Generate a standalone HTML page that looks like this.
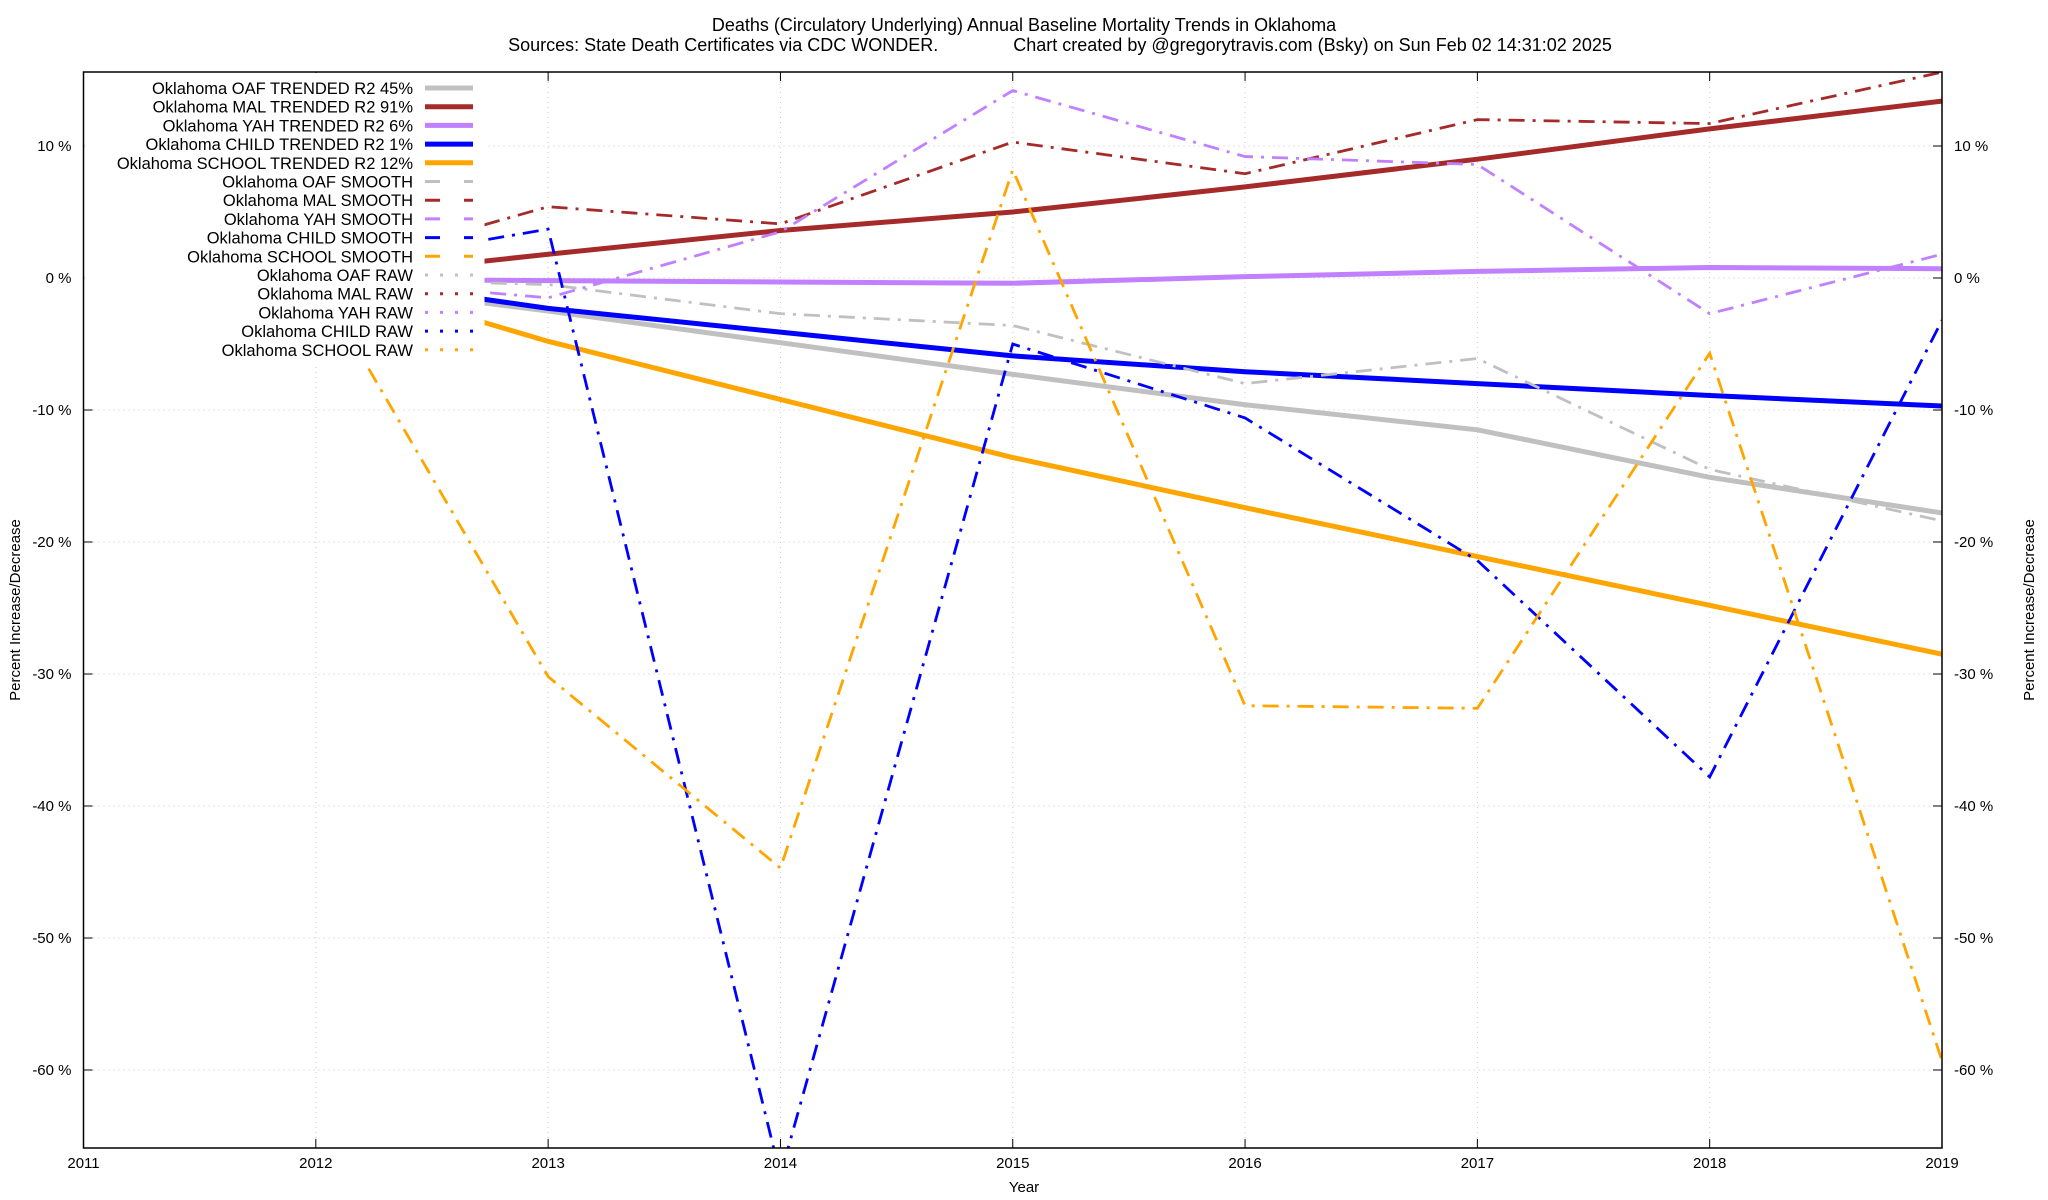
<!DOCTYPE html>
<html><head><meta charset="utf-8"><style>
body{margin:0;background:#fff;}
svg{display:block;font-family:"Liberation Sans",Arial,sans-serif;}
</style></head><body>
<svg id="chart" width="2048" height="1200" viewBox="0 0 2048 1200">
<text x="1024" y="31" font-size="18" text-anchor="middle">Deaths (Circulatory Underlying)  Annual Baseline Mortality Trends in Oklahoma</text>
<text x="1060" y="51" font-size="18" text-anchor="middle" xml:space="preserve">Sources: State Death Certificates via CDC WONDER.               Chart created by @gregorytravis.com (Bsky) on Sun Feb 02 14:31:02 2025</text>
<g id="grid"></g>
<g id="axes"></g>
<defs><clipPath id="pc"><rect x="83.5" y="72" width="1858.5" height="1076"/></clipPath></defs>
<g id="series" clip-path="url(#pc)"></g>
<g id="legend"></g>
<rect x="83.5" y="72" width="1858.5" height="1076" fill="none" stroke="#000" stroke-width="1.5"/>
<text x="1024" y="1192" font-size="15" text-anchor="middle">Year</text>
<text transform="translate(20,610) rotate(-90)" font-size="15" text-anchor="middle">Percent Increase/Decrease</text>
<text transform="translate(2034,610) rotate(-90)" font-size="15" text-anchor="middle">Percent Increase/Decrease</text>
</svg>
<script>
const years = [2012, 2013, 2014, 2015, 2016, 2017, 2018, 2019];
const xTicks = [2011, 2012, 2013, 2014, 2015, 2016, 2017, 2018, 2019];
const yTicks = [10, 0, -10, -20, -30, -40, -50, -60];
const oafTrend = [-0.3, -2.5, -4.9, -7.3, -9.6, -11.5, -15.1, -17.8];
const malTrend = [-0.1, 1.8, 3.6, 5.0, 6.9, 9.0, 11.3, 13.4];
const yahTrend = [-0.1, -0.2, -0.3, -0.4, 0.1, 0.5, 0.8, 0.7];
const childTrend = [0.2, -2.3, -4.1, -5.9, -7.1, -8.0, -8.9, -9.7];
const schoolTrend = [0.4, -4.8, -9.2, -13.6, -17.4, -21.1, -24.8, -28.5];
const oafSmooth = [0, -0.5, -2.7, -3.6, -8.0, -6.1, -14.5, -18.4];
const malSmooth = [0.4, 5.4, 4.1, 10.3, 7.9, 12.0, 11.7, 15.6];
const yahSmooth = [0, -1.5, 3.5, 14.2, 9.2, 8.6, -2.7, 1.8];
const childSmooth = [0.7, 3.7, -68, -5.0, -10.6, -21.4, -37.8, -3.2];
const schoolSmooth = [0, -30.2, -44.7, 8.2, -32.4, -32.6, -5.7, -59.3];
const legendLabels = ["Oklahoma OAF TRENDED R2  45%","Oklahoma MAL TRENDED R2  91%","Oklahoma YAH TRENDED R2   6%","Oklahoma CHILD TRENDED R2   1%","Oklahoma SCHOOL TRENDED R2  12%","Oklahoma OAF SMOOTH","Oklahoma MAL SMOOTH","Oklahoma YAH SMOOTH","Oklahoma CHILD SMOOTH","Oklahoma SCHOOL SMOOTH","Oklahoma OAF RAW","Oklahoma MAL RAW","Oklahoma YAH RAW","Oklahoma CHILD RAW","Oklahoma SCHOOL RAW"];

const NS = "http://www.w3.org/2000/svg";
const L = 83.5, R = 1942, T = 72, B = 1148;
const xS = v => L + (v - 2011) * (R - L) / 8;
const yS = v => 278 - v * 13.2;
const cols = {oaf:"#c0c0c0", mal:"#a52a2a", yah:"#c080ff", child:"#0000ff", school:"#ffa500"};
function mk(tag, attrs, parent) { const e = document.createElementNS(NS, tag); for (const k in attrs) e.setAttribute(k, attrs[k]); parent.appendChild(e); return e; }
const grid = document.getElementById('grid'), axes = document.getElementById('axes'), ser = document.getElementById('series'), leg = document.getElementById('legend');

yTicks.forEach(v => {
  const y = yS(v);
  const g = mk('line', {x1:L, x2:R, y1:y, y2:y, stroke:'#ccc', 'stroke-width':1, 'stroke-dasharray':'1 4'}, grid);
  
  
  mk('line', {x1:L, x2:L+9, y1:y, y2:y, stroke:'#000'}, axes);
  mk('line', {x1:R-9, x2:R, y1:y, y2:y, stroke:'#000'}, axes);
  const t1 = mk('text', {x:L-12, y:y+5, 'font-size':15, 'text-anchor':'end'}, axes);
  t1.textContent = v + ' %';
  
  
  const t2 = mk('text', {x:R+12, y:y+5, 'font-size':15}, axes);
  t2.textContent = v + ' %';
  
  
});
xTicks.forEach(v => {
  const x = xS(v);
  const g = mk('line', {x1:x, x2:x, y1:T, y2:B, stroke:'#ccc', 'stroke-width':1, 'stroke-dasharray':'1 4'}, grid);
  
  
  mk('line', {x1:x, x2:x, y1:B, y2:B-9, stroke:'#000'}, axes);
  mk('line', {x1:x, x2:x, y1:T, y2:T+9, stroke:'#000'}, axes);
  const t = mk('text', {x:x, y:1168, 'font-size':15, 'text-anchor':'middle'}, axes);
  t.textContent = v;
  
  
});

function pts(arr) { return arr.map((v, i) => xS(years[i]) + ',' + yS(v)).join(' '); }
const smooth = [['oaf',oafSmooth],['mal',malSmooth],['yah',yahSmooth],['child',childSmooth],['school',schoolSmooth]];
const trend = [['oaf',oafTrend],['mal',malTrend],['yah',yahTrend],['child',childTrend],['school',schoolTrend]];
trend.forEach(([k, a]) => {
  const p = mk('polyline', {points:pts(a), fill:'none', stroke:cols[k], 'stroke-width':5, 'stroke-linejoin':'round'}, ser);
  
  
});
smooth.forEach(([k, a]) => {
  const p = mk('polyline', {points:pts(a), fill:'none', stroke:cols[k], 'stroke-width':2.8, 'stroke-dasharray':'16 8 3 8'}, ser);
  
  
});

const bg = mk('rect', {x:L+1, y:T+1, width:400, height:292, fill:'#fff'}, leg);


const keys = ['oaf','mal','yah','child','school'];
legendLabels.forEach((lab, i) => {
  const y = 88 + i * 18.7;
  const k = keys[i % 5];
  const t = mk('text', {x:413, y:y+6, 'font-size':16.5, 'text-anchor':'end'}, leg);
  t.setAttribute('xml:space', 'preserve');
  t.textContent = lab;
  
  
  let attrs = {x1:425, x2:473, y1:y, y2:y, stroke:cols[k]};
  if (i < 5) { attrs['stroke-width'] = 5; }
  else if (i < 10) { attrs['stroke-width'] = 3; attrs['stroke-dasharray'] = '15 24'; }
  else { attrs['stroke-width'] = 3; attrs['stroke-dasharray'] = '3 12'; }
  const s = mk('line', attrs, leg);
  
  
});
</script>
</body></html>
